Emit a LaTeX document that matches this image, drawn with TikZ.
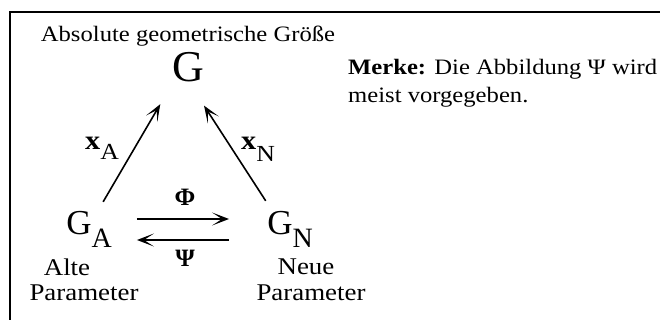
\documentclass[tikz,border=0pt]{standalone}
\usepackage{fontspec}
\setmainfont{Liberation Serif}
\newfontfamily\wideserif{Liberation Serif}[FakeStretch=1.12]
\usetikzlibrary{arrows.meta}

\begin{document}
\begin{tikzpicture}[x=1pt, y=-1pt,
    every node/.style={inner sep=1pt, font=\wideserif\fontsize{22}{28}\selectfont},
    param/.style={font=\wideserif\fontsize{24}{28}\selectfont},
    bigsym/.style={font=\fontsize{35}{35}\selectfont},
    mapsym/.style={font=\bfseries\fontsize{25}{28}\selectfont},
    pfeil/.style={-{Stealth[length=17pt,width=13pt,inset=10pt]}, line width=1.6pt}
  ]
    \useasboundingbox (0,0) rectangle (660,320);
    % Rahmen (nur oben und links sichtbar)
    \draw[line width=2pt] (10,320) -- (10,12) -- (660,12);

    \node[anchor=base] (titel) at (188,42) {Absolute geometrische Größe};
    \node[font=\fontsize{44}{44}\selectfont] (g) at (188,67) {G};

    \node[bigsym] (ga) at (89,229) {G\fontsize{28}{28}\selectfont\raisebox{-13pt}{A}};
    \node[bigsym] (gn) at (290,229) {G\fontsize{28}{28}\selectfont\raisebox{-13pt}{N}};

    \node (xa) at (102,148) {\fontsize{27}{27}\selectfont\bfseries x\mdseries\fontsize{23}{23}\selectfont\raisebox{-10pt}{A}};
    \node (xn) at (258,149) {\fontsize{27}{27}\selectfont\bfseries x\mdseries\fontsize{23}{23}\selectfont\raisebox{-12pt}{N}};

    \node[mapsym] (phi) at (185,197) {Φ};
    \node[mapsym] (psi) at (185,258) {Ψ};

    \node[param] (alt1) at (67,267) {Alte};
    \node[param] (alt2) at (84,293) {Parameter};
    \node[param] (neu1) at (306,267) {Neue};
    \node[param] (neu2) at (311,293) {Parameter};

    \node[anchor=base west, align=left] (merke) at (347,103)
      {\textbf{Merke:} Die Abbildung Ψ wird\\meist vorgegeben.};

    % Pfeile zu G
    \draw[pfeil, shorten <=28pt, shorten >=43pt]
      ([yshift=3pt]ga.center) -- ([xshift=-6pt]g.center);
    \draw[pfeil, shorten <=30pt, shorten >=46pt]
      ([xshift=-8pt,yshift=3pt]gn.center) -- ([xshift=-9pt]g.center);
    % Phi und Psi
    \draw[pfeil] ([xshift=24pt,yshift=10pt]ga.east) -- ([xshift=-37pt,yshift=10pt]gn.west);
    \draw[pfeil] ([xshift=-37pt,yshift=-11pt]gn.west) -- ([xshift=24pt,yshift=-11pt]ga.east);
\end{tikzpicture}
\end{document}
